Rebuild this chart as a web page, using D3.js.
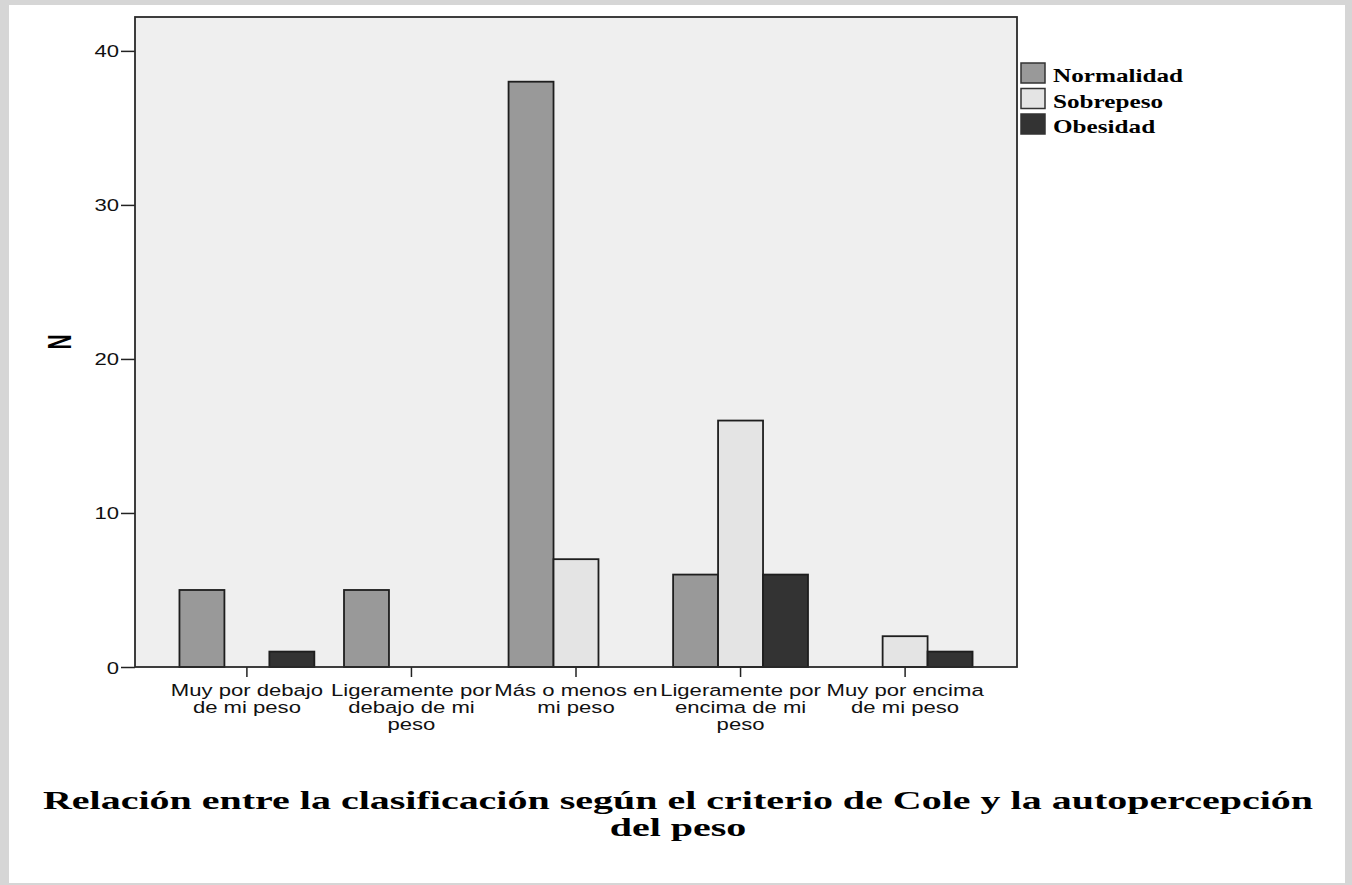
<!DOCTYPE html>
<html>
<head>
<meta charset="utf-8">
<script src="https://cdn.jsdelivr.net/npm/d3@7"></script>
<style>
  html, body { margin: 0; padding: 0; background: #d6d6d6; }
  svg { display: block; }
</style>
</head>
<body>
<svg id="chart" width="1352" height="885"></svg>
<script>
/* ---------- Data ---------- */
const categories = ['Muy por debajo de mi peso', 'Ligeramente por debajo de mi peso',
  'Más o menos en mi peso', 'Ligeramente por encima de mi peso', 'Muy por encima de mi peso'];
// the label lines as they wrap under each tick
const categoryLines = [
  ['Muy por debajo', 'de mi peso'],
  ['Ligeramente por', 'debajo de mi', 'peso'],
  ['Más o menos en', 'mi peso'],
  ['Ligeramente por', 'encima de mi', 'peso'],
  ['Muy por encima', 'de mi peso'],
];
const seriesNames = ['Normalidad', 'Sobrepeso', 'Obesidad'];
const normalidad = [5, 5, 38, 6, 0];
const sobrepeso = [0, 0, 7, 16, 2];
const obesidad = [1, 0, 0, 6, 1];
const yTicks = [0, 10, 20, 30, 40];
const yLabel = 'N';
const titleLines = ['Relación entre la clasificación según el criterio de Cole y la autopercepción', 'del peso'];

const seriesValues = [normalidad, sobrepeso, obesidad];
const colors = { Normalidad: '#999999', Sobrepeso: '#e4e4e4', Obesidad: '#333333' };

/* ---------- Layout ---------- */
const svg = d3.select('#chart');
const plot = { left: 135, top: 17, right: 1017, bottom: 667 };
const SANS = "'Liberation Sans', Arial, sans-serif";
const SERIF = "'Liberation Serif', 'Times New Roman', serif";
const sx = 1.3; // the source picture is stretched sideways

// white panel on the grey textured frame
svg.append('rect')
  .attr('x', 9).attr('y', 5).attr('width', 1336).attr('height', 878)
  .attr('fill', '#ffffff');

svg.append('rect')
  .attr('x', plot.left).attr('y', plot.top)
  .attr('width', plot.right - plot.left).attr('height', plot.bottom - plot.top)
  .attr('fill', '#efefef');

const x0 = d3.scaleBand()
  .domain(categories)
  .range([plot.left, plot.right])
  .paddingInner(0)
  .paddingOuter(0.18);

const x1 = d3.scaleBand()
  .domain(seriesNames)
  .range([0, x0.bandwidth()])
  .paddingInner(0)
  .paddingOuter(0.33);

const y = d3.scaleLinear()
  .domain([0, 42.2])
  .range([plot.bottom, plot.top]);

/* ---------- Bars ---------- */
const rows = categories.map((c, i) => ({
  cat: c,
  vals: seriesNames.map((s, j) => ({ s, v: seriesValues[j][i] }))
}));

const groups = svg.append('g')
  .selectAll('g')
  .data(rows)
  .join('g')
  .attr('transform', d => `translate(${x0(d.cat)},0)`);

groups.selectAll('rect')
  .data(d => d.vals)
  .join('rect')
  .attr('x', d => x1(d.s))
  .attr('y', d => y(d.v))
  .attr('width', x1.bandwidth())
  .attr('height', d => y(0) - y(d.v))
  .attr('fill', d => colors[d.s])
  .attr('stroke', '#1e1e1e')
  .attr('stroke-width', 1.8);

/* ---------- Axes ---------- */
const yAxis = svg.append('g')
  .attr('transform', `translate(${plot.left},0)`)
  .call(d3.axisLeft(y).tickValues(yTicks).tickSize(14).tickFormat(d3.format('d')));
yAxis.select('.domain').remove();
yAxis.selectAll('.tick line').attr('stroke', '#222').attr('stroke-width', 1.5);
yAxis.selectAll('.tick text')
  .attr('x', null).attr('dy', null)
  .attr('transform', 'translate(-16,6) scale(' + sx + ',1)')
  .attr('font-family', SANS).attr('font-size', 17).attr('fill', '#111');

const xAxis = svg.append('g')
  .attr('transform', `translate(0,${plot.bottom})`)
  .call(d3.axisBottom(x0).tickSize(10).tickFormat(''));
xAxis.select('.domain').remove();
xAxis.selectAll('.tick line').attr('stroke', '#222').attr('stroke-width', 1.5);
xAxis.selectAll('.tick').each(function(d, i) {
  const t = d3.select(this).append('text')
    .attr('text-anchor', 'middle')
    .attr('font-family', SANS).attr('font-size', 17).attr('fill', '#111')
    .attr('transform', 'translate(0,29) scale(' + sx + ',1)');
  categoryLines[i].forEach((line, k) => {
    t.append('tspan').attr('x', 0).attr('y', k * 17).text(line);
  });
});

// plot frame
svg.append('rect')
  .attr('x', plot.left).attr('y', plot.top)
  .attr('width', plot.right - plot.left).attr('height', plot.bottom - plot.top)
  .attr('fill', 'none').attr('stroke', '#2a2a2a').attr('stroke-width', 1.8);

// y-axis title
svg.append('text')
  .attr('transform', 'translate(71,342) scale(1.6,1) rotate(-90)')
  .attr('text-anchor', 'middle')
  .attr('font-family', SANS).attr('font-weight', 'bold').attr('font-size', 21)
  .attr('fill', '#000')
  .text(yLabel);

/* ---------- Legend ---------- */
const legend = svg.append('g').attr('transform', 'translate(1021,63)');
const item = legend.selectAll('g')
  .data(seriesNames)
  .join('g')
  .attr('transform', (d, i) => `translate(0,${i * 25.5})`);
item.append('rect')
  .attr('width', 24).attr('height', 20)
  .attr('fill', d => colors[d])
  .attr('stroke', '#333').attr('stroke-width', 1.5);
item.append('text')
  .attr('transform', 'translate(32,19) scale(1.4,1)')
  .attr('font-family', SERIF).attr('font-weight', 'bold').attr('font-size', 18)
  .attr('fill', '#000')
  .text(d => d);

/* ---------- Title ---------- */
svg.append('text')
  .attr('transform', 'translate(678,809) scale(1.6,1)')
  .attr('text-anchor', 'middle')
  .attr('font-family', SERIF).attr('font-weight', 'bold').attr('font-size', 25)
  .attr('fill', '#000')
  .selectAll('tspan')
  .data(titleLines)
  .join('tspan')
  .attr('x', 0)
  .attr('y', (d, i) => i * 27)
  .text(d => d);
</script>
</body>
</html>
